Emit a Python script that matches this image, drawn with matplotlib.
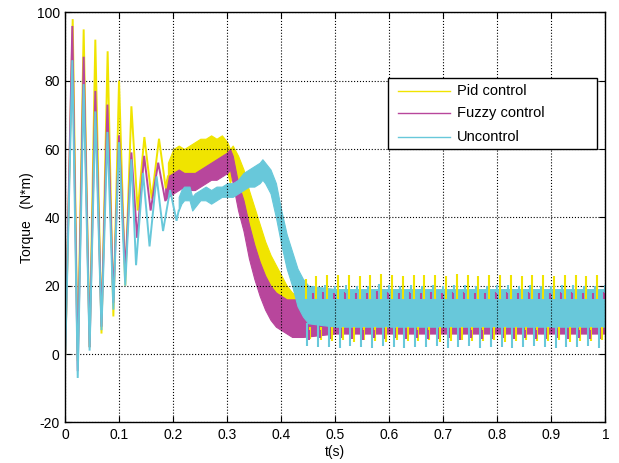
import matplotlib
matplotlib.use("Agg")
import matplotlib.pyplot as plt
from matplotlib.lines import Line2D
from matplotlib.patches import Rectangle

plt.rcParams['font.family'] = ['Liberation Sans', 'DejaVu Sans']
plt.rcParams['axes.unicode_minus'] = False

# ---- start-up oscillation: successive extremes (time in s, torque in N*m) ----
pid_osc_t = [0.000, 0.0137, 0.023, 0.034, 0.045, 0.0556, 0.067, 0.0784, 0.089,
             0.0995, 0.111, 0.1224, 0.134, 0.1464, 0.160, 0.1735, 0.186, 0.190]
pid_osc_v = [0, 98, -2, 95, 2, 92, 6, 88.6, 11, 80, 20, 72.5, 42, 63.5, 45.5, 63, 48.5, 52]

fuzzy_osc_t = [0.000, 0.013, 0.023, 0.034, 0.045, 0.0556, 0.067, 0.078, 0.089,
               0.0995, 0.111, 0.1224, 0.133, 0.146, 0.158, 0.172, 0.185]
fuzzy_osc_v = [0, 96, -5, 87, 2, 77, 8, 73, 15, 64, 24, 59, 34, 58, 42, 56, 45]

unc_osc_t = [0.000, 0.013, 0.023, 0.034, 0.045, 0.0556, 0.067, 0.078, 0.089,
             0.0995, 0.111, 0.1224, 0.131, 0.144, 0.156, 0.169, 0.181, 0.194, 0.206, 0.210]
unc_osc_v = [0, 86, -7, 79, 1, 71, 7, 65, 13, 62, 20, 57, 26, 53, 31.5, 52, 36, 48, 39, 42]

# ---- noisy band after the start-up: lower / upper envelope ----
pid_band_t = [0.19, 0.20, 0.21, 0.22, 0.23, 0.24, 0.25, 0.26, 0.27, 0.28, 0.29, 0.30,
              0.305, 0.31, 0.32, 0.33, 0.34, 0.35, 0.36, 0.37, 0.38, 0.39, 0.40, 0.41,
              0.42, 0.43, 0.44, 0.50, 0.60, 0.70, 0.80, 0.90, 1.00]
pid_band_lo = [47, 50, 52, 51, 53, 53, 54, 55, 55, 56, 56, 53,
               50, 53, 50, 42, 36, 31, 25, 21, 18, 15, 12, 9,
               7, 6, 6, 7, 7, 7, 7, 7, 7]
pid_band_hi = [56, 60, 61, 60, 61, 62, 63, 63, 64, 63, 64, 62,
               60, 61, 58, 54, 48, 43, 38, 33, 29, 26, 23, 20,
               18, 17, 17, 17, 17, 17, 17, 17, 17]

fuzzy_band_t = [0.185, 0.19, 0.20, 0.21, 0.22, 0.23, 0.24, 0.25, 0.26, 0.27, 0.28, 0.29,
                0.30, 0.305, 0.31, 0.315, 0.32, 0.33, 0.34, 0.35, 0.36, 0.37, 0.38, 0.39,
                0.40, 0.41, 0.42, 0.43, 0.44, 0.50, 0.60, 0.70, 0.80, 0.90, 1.00]
fuzzy_band_lo = [45, 46, 47, 48, 49, 48, 48, 49, 50, 51, 51, 52,
                 53, 54, 50, 46, 42, 36, 28, 22, 17, 13, 10, 8,
                 7, 6, 5, 5, 5, 6, 6, 6, 6, 6, 6]
fuzzy_band_hi = [50, 52, 53, 54, 53, 53, 53, 54, 55, 56, 57, 58,
                 59, 60, 58, 54, 50, 45, 38, 32, 27, 23, 20, 18,
                 17, 16, 16, 16, 17, 17, 17, 17, 17, 17, 17]

unc_band_t = [0.21, 0.215, 0.22, 0.23, 0.235, 0.24, 0.25, 0.26, 0.27, 0.28, 0.29, 0.30,
              0.31, 0.32, 0.33, 0.34, 0.35, 0.36, 0.365, 0.37, 0.38, 0.39, 0.40, 0.41,
              0.42, 0.43, 0.44, 0.45, 0.50, 0.60, 0.70, 0.80, 0.90, 1.00]
unc_band_lo = [42, 44, 45, 45, 42, 43, 45, 45, 44, 45, 46, 46,
               46, 47, 48, 49, 49, 50, 51, 50, 47, 40, 32, 25,
               20, 14, 11, 9, 8, 8, 8, 8, 8, 8]
unc_band_hi = [46, 48, 49, 49, 46, 47, 48, 49, 48, 49, 49, 50,
               50, 51, 53, 54, 55, 56, 57, 56, 54, 50, 42, 35,
               30, 25, 22, 20, 19, 19, 19, 19, 19, 19]

# ---- 50 Hz ripple spikes in steady state ----
ripple_t = [0.445, 0.465, 0.485, 0.505, 0.525, 0.545, 0.565, 0.585, 0.605, 0.625,
            0.645, 0.665, 0.685, 0.705, 0.725, 0.745, 0.765, 0.785, 0.805, 0.825,
            0.845, 0.865, 0.885, 0.905, 0.925, 0.945, 0.965, 0.985]
pid_ripple_hi = [22.0, 22.8, 23.0, 23.2, 23.0, 22.8, 23.1, 23.3, 23.0, 22.9,
                 23.2, 23.0, 23.1, 22.8, 23.3, 23.0, 22.9, 23.2, 23.0, 23.1,
                 22.8, 23.2, 23.0, 22.9, 23.1, 23.0, 22.8, 23.1]
pid_ripple_lo = [4.5, 4.0, 3.8, 4.2, 3.6, 4.0, 3.9, 3.5, 4.1, 3.8,
                 3.7, 4.0, 3.6, 3.9, 4.2, 3.7, 3.8, 4.0, 3.6, 3.9,
                 4.1, 3.7, 3.8, 4.0, 3.6, 3.9, 3.8, 4.0]
fuzzy_ripple_lo = [4.0, 4.6, 4.3, 4.8, 4.5, 4.2, 4.7, 4.4, 4.6, 4.3,
                   4.8, 4.5, 4.4, 4.7, 4.2, 4.6, 4.5, 4.3, 4.8, 4.4,
                   4.6, 4.5, 4.3, 4.7, 4.4, 4.6, 4.5, 4.3]
fuzzy_ripple_hi = [18.0, 18.3, 17.8, 18.2, 18.0, 17.9, 18.4, 18.1, 17.8, 18.2,
                   18.0, 18.3, 17.9, 18.1, 18.2, 17.8, 18.0, 18.3, 18.1, 17.9,
                   18.2, 18.0, 17.8, 18.1, 18.3, 18.0, 17.9, 18.2]
unc_ripple_lo = [2.5, 2.0, 2.2, 1.8, 2.4, 2.0, 1.9, 2.3, 2.1, 1.8,
                 2.2, 2.0, 2.4, 1.9, 2.1, 2.3, 1.8, 2.0, 2.2, 1.9,
                 2.1, 2.4, 2.0, 1.8, 2.2, 2.0, 2.3, 1.9]
unc_ripple_hi = [20.0, 20.3, 19.8, 20.2, 20.0, 19.9, 20.4, 20.1, 19.8, 20.2,
                 20.0, 20.3, 19.9, 20.1, 20.2, 19.8, 20.0, 20.3, 20.1, 19.9,
                 20.2, 20.0, 19.8, 20.1, 20.3, 20.0, 19.9, 20.2]

series_names = ['Pid control', 'Fuzzy control', 'Uncontrol']

x_ticks = [0, 0.1, 0.2, 0.3, 0.4, 0.5, 0.6, 0.7, 0.8, 0.9, 1]
x_tick_labels = ['0', '0.1', '0.2', '0.3', '0.4', '0.5', '0.6', '0.7', '0.8', '0.9', '1']
y_ticks = [-20, 0, 20, 40, 60, 80, 100]

PID_C = '#F0E400'
FUZZY_C = '#B8469C'
UNC_C = '#68C8DA'
colors = [PID_C, FUZZY_C, UNC_C]

fig = plt.figure(figsize=(6.19, 4.63), dpi=100)
ax = fig.add_axes([0.1055, 0.0877, 0.8724, 0.8857])


def draw_series(color, osc_t, osc_v, band_t, lo, hi, spikes):
    ax.plot(osc_t, osc_v, color=color, lw=1.4, solid_joinstyle='miter')
    ax.fill_between(band_t, lo, hi, color=color, lw=0.8, edgecolor=color)
    for offset, base, tips in spikes:
        ax.vlines([t + offset for t in ripple_t], base, tips, color=color, lw=1.5)


draw_series(PID_C, pid_osc_t, pid_osc_v, pid_band_t, pid_band_lo, pid_band_hi,
            [(0.0, 16, pid_ripple_hi), (0.009, 8, pid_ripple_lo)])
draw_series(FUZZY_C, fuzzy_osc_t, fuzzy_osc_v, fuzzy_band_t, fuzzy_band_lo, fuzzy_band_hi,
            [(0.006, 7, fuzzy_ripple_lo), (0.013, 16, fuzzy_ripple_hi)])
draw_series(UNC_C, unc_osc_t, unc_osc_v, unc_band_t, unc_band_lo, unc_band_hi,
            [(0.003, 9, unc_ripple_lo), (0.015, 18, unc_ripple_hi)])

ax.set_xlim(0, 1)
ax.set_ylim(-20, 100)
ax.set_xticks(x_ticks)
ax.set_xticklabels(x_tick_labels)
ax.set_yticks(y_ticks)
ax.grid(True, color='black', linestyle=':', linewidth=0.8)
ax.tick_params(direction='in', top=True, right=True, labelsize=10, length=4,
               width=0.8, pad=4, colors='black')
for sp in ax.spines.values():
    sp.set_linewidth(1.0)
ax.set_xlabel('t(s)', fontsize=10, labelpad=2)
ax.set_ylabel('Torque   (N*m)', fontsize=10, labelpad=2)

# legend box with entries laid out MATLAB-style (wide frame, long sample lines)
box = Rectangle((0.5976, 0.6667), 0.387, 0.1731, transform=ax.transAxes,
                facecolor='white', edgecolor='black', lw=1.0, zorder=5)
ax.add_patch(box)
row_y = [0.8088, 0.7537, 0.6967]
for name, color, y in zip(series_names, colors, row_y):
    ax.add_line(Line2D([0.6161, 0.7124], [y, y], transform=ax.transAxes,
                       color=color, lw=1.0, zorder=6))
    ax.text(0.7254, y, name, transform=ax.transAxes, fontsize=10.5,
            va='center', ha='left', zorder=6)

fig.savefig('out.png', dpi=100)
